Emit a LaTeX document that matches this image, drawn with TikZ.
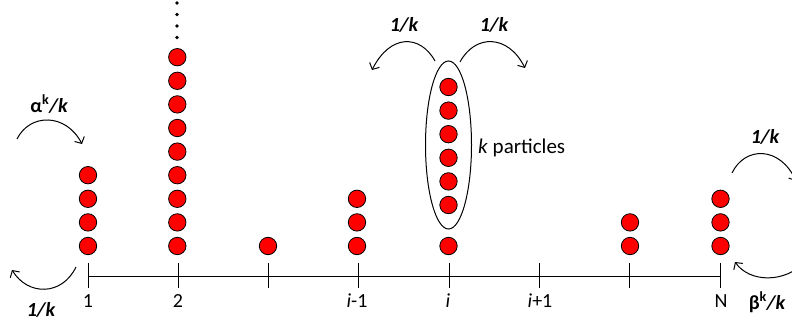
\documentclass[tikz,border=0pt]{standalone}
\usepackage{fontspec}
\setmainfont{Carlito}
\usetikzlibrary{arrows.meta,shapes.geometric}
\begin{document}
\begin{tikzpicture}[x=1pt,y=-1pt,
  ball/.style={circle,draw=black,fill=red,line width=0.8pt,minimum size=17.4pt,inner sep=0pt},
  dotb/.style={circle,fill=black,minimum size=3.8pt,inner sep=0pt},
  hop/.style={line width=1pt,-{Straight Barb[length=5pt,width=11pt,line width=1pt]}},
  lbl/.style={font=\fontsize{20}{24}\selectfont\bfseries\itshape,inner sep=0pt},
  tlbl/.style={font=\fontsize{20}{24}\selectfont,inner sep=0pt},
  axisline/.style={line width=1pt}]
\useasboundingbox (0,0) rectangle (792,326);
% axis and ticks
\foreach \n in {1,...,8}{
  \coordinate (t\n) at ({88+90.3*(\n-1)},276);
  \coordinate (tu\n) at ({88+90.3*(\n-1)},263);
  \coordinate (td\n) at ({88+90.3*(\n-1)},288);
  \draw[axisline] (tu\n) -- (td\n);
}
\draw[axisline] (t1) -- (t8);
% tick labels
\node[tlbl] (l1) at (88,301) {1};
\node[tlbl] (l2) at (178,301) {2};
\node[tlbl] (l4) at (357,301) {\textit{i}-1};
\node[tlbl] (l5) at (448,301) {\textit{i}};
\node[tlbl] (l6) at (540,301) {\textit{i}+1};
\node[tlbl] (l8) at (721,301) {N};
% ball columns
\foreach \c/\x/\m in {1/88/4,2/177.3/9,3/268/1,4/357/3,5/448.5/1,7/630/2,8/720.5/3}{
  \foreach \k in {1,...,\m}{
    \node[ball] (b\c-\k) at (\x,{246-23.6*(\k-1)}) {};
  }
}
% k particles in ellipse
\foreach \k in {1,...,6}{
  \node[ball] (e\k) at (448.5,{205-23.6*(\k-1)}) {};
}
\node[draw,ellipse,line width=1pt,minimum width=46pt,minimum height=168pt,inner sep=0pt] (grp) at (448.5,145) {};
\node[font=\fontsize{21}{25}\selectfont,inner sep=0pt,anchor=west] (kp) at (478,148) {\textit{k} particles};
% dots above column 2
\foreach \k/\y in {1/3,2/14.5,3/26,4/37.5}{
  \node[dotb] (d\k) at (177,\y) {};
}
% hop arrows above i
\coordinate (la) at (435,61);
\coordinate (lb) at (372,70);
\draw[hop] (la) .. controls (420,34) and (390,34) .. (lb);
\coordinate (ra) at (460,62);
\coordinate (rb) at (525,68);
\draw[hop] (ra) .. controls (475,34) and (508,34) .. (rb);
\node[lbl] (h1) at (404,25) {1/k};
\node[lbl] (h2) at (494,25) {1/k};
% left boundary
\coordinate (aa) at (17,139);
\coordinate (ab) at (82,144);
\draw[hop] (aa) .. controls (30,113) and (66,113) .. (ab);
\node[lbl] (alpha) at (49,104) {\upshape α\textsuperscript{k}\itshape/k};
\coordinate (ba) at (76,267);
\coordinate (bb) at (12,270);
\draw[hop] (ba) .. controls (62,296) and (28,296) .. (bb);
\node[lbl] (h3) at (41,310) {1/k};
% right boundary
\coordinate (ca) at (732,173);
\coordinate (cb) at (796,181);
\draw[hop] (ca) .. controls (745,146) and (780,146) .. (cb);
\node[lbl] (h4) at (765,137) {1/k};
\coordinate (da) at (805,262);
\coordinate (db) at (735,262);
\draw[hop] (da) .. controls (785,283) and (750,283) .. (db);
\node[lbl] (beta) at (767,302) {\upshape β\textsuperscript{k}\itshape/k};
\end{tikzpicture}
\end{document}
